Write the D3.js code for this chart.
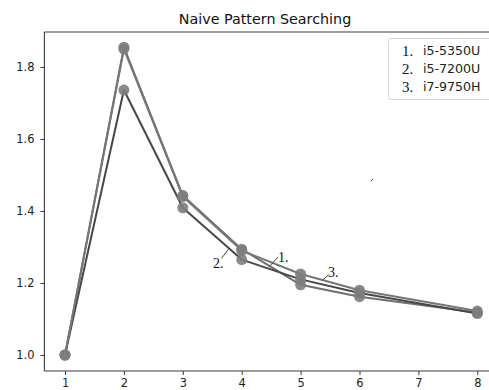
<!DOCTYPE html>
<html>
<head>
<meta charset="utf-8">
<script src="https://cdn.jsdelivr.net/npm/d3@7"></script>
<style>
  html, body { margin: 0; padding: 0; background: #fff; overflow: hidden; }
  svg { display: block; }
</style>
</head>
<body>
<script>
// Thread counts / step index on the x axis (no run at 7)
const steps = [1, 2, 3, 4, 5, 6, 8];
// Relative time per CPU
const i5_5350U = [1.0, 1.855, 1.443, 1.294, 1.195, 1.162, 1.118];
const i5_7200U = [1.0, 1.736, 1.409, 1.265, 1.210, 1.172, 1.115];
const i7_9750H = [1.0, 1.850, 1.440, 1.290, 1.225, 1.180, 1.122];
const seriesNames = ["i5-5350U", "i5-7200U", "i7-9750H"];
const xTicks = [1, 2, 3, 4, 5, 6, 7, 8];
const yTicks = [1.0, 1.2, 1.4, 1.6, 1.8];

const W = 489, H = 390;
const plotLeft = 44.4, plotRight = 497.9, plotTop = 32, plotBottom = 371;

const svg = d3.select("body").append("svg")
  .attr("width", W).attr("height", H);

const x = d3.scaleLinear().domain([0.65, 8.35]).range([plotLeft, plotRight]);
const y = d3.scaleLinear().domain([1 - 16 / 360, 1 + 323 / 360]).range([plotBottom, plotTop]);

// Title
svg.append("text")
  .attr("x", 265).attr("y", 24)
  .attr("text-anchor", "middle")
  .attr("font-family", "DejaVu Sans")
  .attr("font-size", 14.3)
  .attr("fill", "#111")
  .text("Naive Pattern Searching");

// Frame (the right spine lies past the page edge)
const frame = svg.append("g").attr("stroke", "#3a3a3a").attr("stroke-width", 1.1).attr("fill", "none");
frame.append("line").attr("x1", plotLeft).attr("x2", W).attr("y1", plotTop).attr("y2", plotTop);
frame.append("line").attr("x1", plotLeft).attr("x2", plotLeft).attr("y1", plotTop).attr("y2", plotBottom);
frame.append("line").attr("x1", plotLeft).attr("x2", W).attr("y1", plotBottom).attr("y2", plotBottom);

// Axes
const xAxis = svg.append("g")
  .attr("transform", `translate(0,${plotBottom})`)
  .call(d3.axisBottom(x).tickValues(xTicks).tickFormat(d3.format("d")).tickSize(4).tickPadding(4).tickSizeOuter(0));
const yAxis = svg.append("g")
  .attr("transform", `translate(${plotLeft},0)`)
  .call(d3.axisLeft(y).tickValues(yTicks).tickFormat(d3.format(".1f")).tickSize(4).tickPadding(6).tickSizeOuter(0));
[xAxis, yAxis].forEach(g => {
  g.select(".domain").remove();
  g.selectAll(".tick line").attr("stroke", "#3a3a3a").attr("stroke-width", 1);
  g.selectAll(".tick text")
    .attr("font-family", "DejaVu Sans")
    .attr("font-size", 11.4)
    .attr("fill", "#222");
});

// Lines and markers
const allSeries = [i5_5350U, i5_7200U, i7_9750H];
const lineColors = ["#6f6f6f", "#474747", "#767676"];
const line = d3.line().x((d, i) => x(steps[i])).y(d => y(d));

allSeries.forEach((vals, k) => {
  svg.append("path")
    .datum(vals)
    .attr("d", line)
    .attr("fill", "none")
    .attr("stroke", lineColors[k])
    .attr("stroke-width", 2)
    .attr("stroke-linejoin", "round");
});
allSeries.forEach((vals) => {
  svg.append("g").selectAll("circle")
    .data(vals)
    .join("circle")
    .attr("cx", (d, i) => x(steps[i]))
    .attr("cy", d => y(d))
    .attr("r", 5.5)
    .attr("fill", "#7d7d7d")
    .attr("fill-opacity", 0.9);
});

// Numbered callouts on the curves
const callouts = [
  { label: "1.", tx: 278, ty: 262, x1: 278, y1: 257, x2: 269, y2: 267 },
  { label: "2.", tx: 213, ty: 268, x1: 221.5, y1: 258.5, x2: 228.5, y2: 249 },
  { label: "3.", tx: 328, ty: 277, x1: 322.5, y1: 280, x2: 328.5, y2: 275 }
];
callouts.forEach(c => {
  svg.append("line")
    .attr("x1", c.x1).attr("y1", c.y1).attr("x2", c.x2).attr("y2", c.y2)
    .attr("stroke", "#333").attr("stroke-width", 0.9);
  svg.append("text")
    .attr("x", c.tx).attr("y", c.ty)
    .attr("font-family", "Liberation Serif")
    .attr("font-size", 14)
    .attr("fill", "#111")
    .text(c.label);
});
svg.append("line")
  .attr("x1", 370.5).attr("y1", 181.5).attr("x2", 373).attr("y2", 179)
  .attr("stroke", "#444").attr("stroke-width", 0.9);

// Legend
const lg = svg.append("g");
lg.append("rect")
  .attr("x", 388.5).attr("y", 38.5).attr("width", 130).attr("height", 61)
  .attr("rx", 2.5)
  .attr("fill", "#fff").attr("stroke", "#d4d4d4").attr("stroke-width", 1);
seriesNames.forEach((name, i) => {
  const cy = 50 + i * 18.3;
  lg.append("text")
    .attr("x", 402).attr("y", cy + 5.5)
    .attr("font-family", "Liberation Serif")
    .attr("font-size", 15)
    .attr("fill", "#111")
    .text((i + 1) + ".");
  lg.append("text")
    .attr("x", 423).attr("y", cy + 4.5)
    .attr("font-family", "DejaVu Sans")
    .attr("font-size", 12.6)
    .attr("fill", "#222")
    .text(name);
});
</script>
</body>
</html>
